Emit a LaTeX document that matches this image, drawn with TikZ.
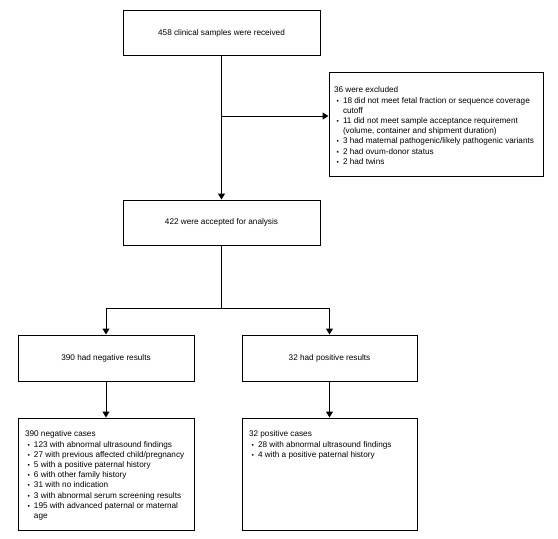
\documentclass[tikz,border=0pt]{standalone}
\usepackage{fontspec}
\setmainfont{Liberation Sans}
\usetikzlibrary{arrows.meta}
\newcommand{\bul}{\par\hangindent=9pt\hangafter=1\noindent\makebox[9pt][l]{\hspace{2.5pt}\scalebox{0.8}{\textbullet}}}

\begin{document}
\begin{tikzpicture}[x=1pt,y=-1pt,
    font=\fontsize{8.2pt}{10.2pt}\selectfont,
    box/.style={draw,line width=1pt,minimum width=197pt,minimum height=45pt},
    listbox/.style={draw,line width=1pt,inner xsep=7pt,inner ysep=13pt},
    arr/.style={-{Triangle[length=6pt,width=7pt]},line width=1pt}]
  \useasboundingbox (0,0) rectangle (558,539);
  \node [box] (recv) at (221.5,33) {458 clinical samples were received};
  \node [listbox,inner xsep=5pt,inner ysep=15pt] (excl) at (436,124) {\parbox[t][74pt][t]{204pt}{\raggedright
      36 were excluded
      \bul 18 did not meet fetal fraction or sequence coverage\newline cutoff
      \bul 11 did not meet sample acceptance requirement\newline (volume, container and shipment duration)
      \bul 3 had maternal pathogenic/likely pathogenic variants
      \bul 2 had ovum-donor status
      \bul 2 had twins}};
  \node [box] (acc) at (221.5,222.5) {422 were accepted for analysis};
  \node [box,minimum width=176pt,minimum height=46pt] (negres) at (106,358) {390 had negative results};
  \node [box,minimum width=175pt,minimum height=46pt] (posres) at (329.5,358) {32 had positive results};
  \node [listbox] (negcases) at (106,474) {\parbox[t][86pt][t]{162pt}{\raggedright
      390 negative cases
      \bul 123 with abnormal ultrasound findings
      \bul 27 with previous affected child/pregnancy
      \bul 5 with a positive paternal history
      \bul 6 with other family history
      \bul 31 with no indication
      \bul 3 with abnormal serum screening results
      \bul 195 with advanced paternal or maternal\newline age}};
  \node [listbox] (poscases) at (329.5,474) {\parbox[t][86pt][t]{161pt}{\raggedright
      32 positive cases
      \bul 28 with abnormal ultrasound findings
      \bul 4 with a positive paternal history}};

  \coordinate (side) at (221.5,116);
  \coordinate (fork) at (221.5,308);
  \draw [arr] (recv) -- (acc);
  \draw [arr] (side) -- (side -| excl.west);
  \draw [line width=1pt] (acc) -- (fork);
  \draw [arr] (fork) -| (negres);
  \draw [arr] (fork) -| (posres);
  \draw [arr] (negres) -- (negcases);
  \draw [arr] (posres) -- (poscases);
\end{tikzpicture}
\end{document}
